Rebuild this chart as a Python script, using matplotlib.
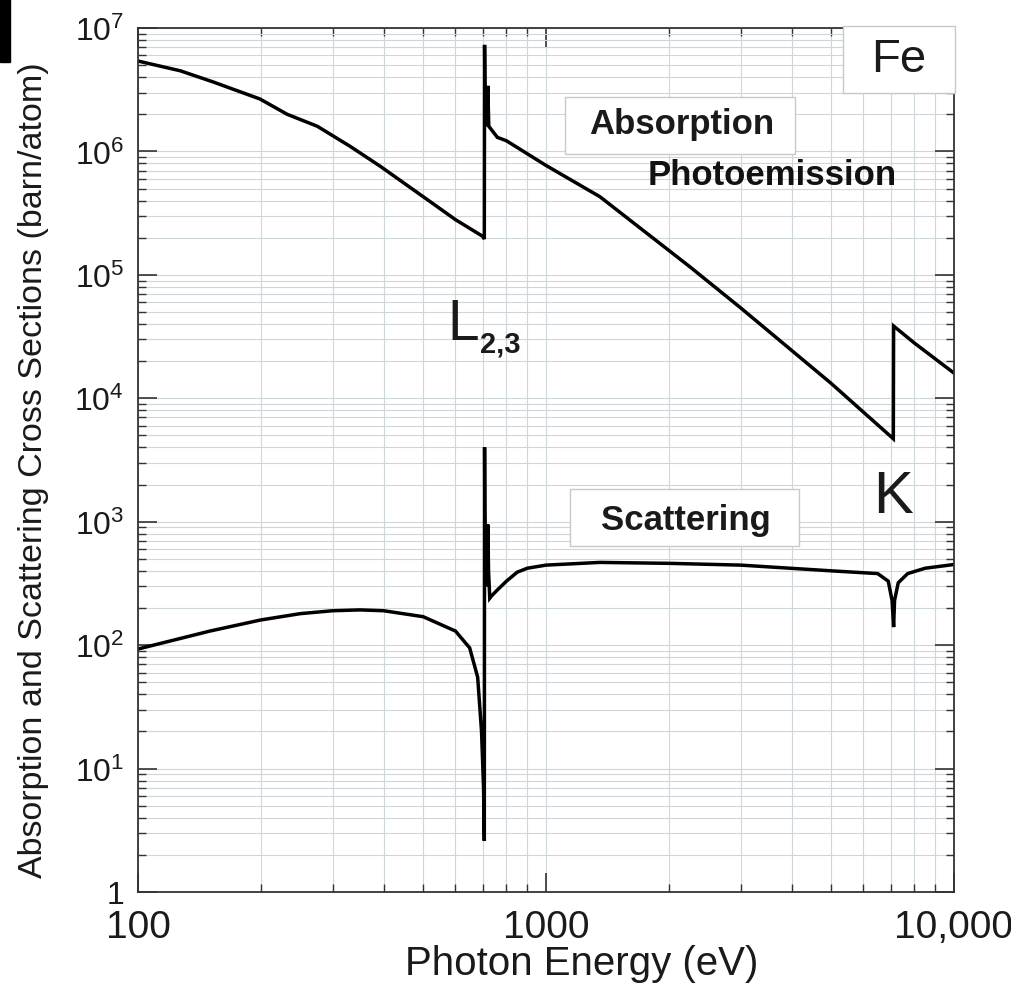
import matplotlib
matplotlib.use("Agg")
import matplotlib.pyplot as plt
from matplotlib.patches import Rectangle
from matplotlib.ticker import FixedLocator, LogLocator, NullFormatter, FixedFormatter

plt.rcParams["font.family"] = ["Liberation Sans", "DejaVu Sans"]
plt.rcParams["mathtext.fontset"] = "custom"
plt.rcParams["mathtext.rm"] = "Liberation Sans"
plt.rcParams["mathtext.it"] = "Liberation Sans"
plt.rcParams["mathtext.bf"] = "Liberation Sans:bold"

# Fe photoabsorption cross section (barn/atom) vs photon energy (eV)
abs_energy = [100, 127, 153, 199, 232, 275, 331, 392, 500, 600, 700, 706,
              707, 709, 713, 716, 720, 724, 735, 760, 800, 1000, 1355,
              2254, 3000, 5000, 7100, 7112, 8000, 10000]
abs_sigma = [5.4e6, 4.5e6, 3.65e6, 2.66e6, 2.0e6, 1.6e6, 1.1e6, 7.6e5,
             4.3e5, 2.8e5, 2.05e5, 1.95e5, 7.3e6, 2.5e6, 1.6e6, 1.7e6,
             3.4e6, 1.6e6, 1.5e6, 1.3e6, 1.22e6, 7.7e5, 4.3e5, 1.16e5,
             5.4e4, 1.32e4, 4.7e3, 3.85e4, 2.8e4, 1.6e4]

# Fe scattering cross section (barn/atom)
sca_energy = [100, 150, 200, 250, 300, 350, 400, 500, 600, 650, 680, 695,
              703, 706, 707, 708, 710, 714, 718, 720, 723, 728, 735, 760,
              800, 850, 900, 1000, 1355, 2000, 3000, 5000, 6500, 6900,
              7050, 7112, 7150, 7300, 7700, 8500, 10000]
sca_sigma = [93, 130, 160, 180, 190, 193, 190, 170, 130, 95, 55, 20, 7,
             2.6, 4000, 1200, 500, 300, 500, 950, 400, 240, 250, 280, 330,
             390, 420, 445, 468, 460, 445, 400, 380, 330, 230, 140, 230,
             320, 380, 420, 450]

x_ticks = [100, 1000, 10000]
x_tick_labels = ["100", "1000", "10,000"]
y_ticks = [1, 10, 100, 1e3, 1e4, 1e5, 1e6, 1e7]
y_tick_labels = ["1"] + [r"$10^{%d}$" % k for k in range(1, 8)]

fig = plt.figure(figsize=(10.11, 9.87), dpi=100)
ax = fig.add_axes([138 / 1011, 1 - 893 / 987, 816 / 1011, 864 / 987])

ax.plot(abs_energy, abs_sigma, color="black", lw=2.5, solid_joinstyle="miter")
ax.plot(sca_energy, sca_sigma, color="black", lw=2.5, solid_joinstyle="miter")

ax.set_xscale("log")
ax.set_yscale("log")
ax.set_xlim(100, 10000)
ax.set_ylim(1, 1e7)

ax.xaxis.set_major_locator(FixedLocator(x_ticks))
ax.xaxis.set_major_formatter(FixedFormatter(x_tick_labels))
ax.xaxis.set_minor_locator(LogLocator(base=10, subs=range(2, 10)))
ax.xaxis.set_minor_formatter(NullFormatter())
ax.yaxis.set_major_locator(FixedLocator(y_ticks))
ax.yaxis.set_major_formatter(FixedFormatter(y_tick_labels))
ax.yaxis.set_minor_locator(LogLocator(base=10, subs=range(2, 10), numticks=20))
ax.yaxis.set_minor_formatter(NullFormatter())

ax.grid(True, which="both", color="#cdd6d9", lw=0.8)
ax.set_axisbelow(True)
ax.tick_params(which="both", direction="in", top=True, right=True,
               color="#333333")
ax.tick_params(which="major", length=14, width=1.2)
ax.tick_params(which="minor", length=6, width=1.0)
ax.tick_params(axis="x", labelsize=28, pad=12, labelcolor="#1a1a1a")
ax.tick_params(axis="y", labelsize=23, pad=10, labelcolor="#1a1a1a")
for sp in ax.spines.values():
    sp.set_color("#333333")
    sp.set_linewidth(1.3)

fig.text(582 / 1011, 1 - 964 / 987, "Photon Energy (eV)", fontsize=29,
         ha="center", va="center", color="#1a1a1a")
fig.text(34 / 1011, 1 - 470 / 987,
         "Absorption and Scattering Cross Sections (barn/atom)",
         fontsize=24.5, rotation=90, ha="center", va="center", color="#1a1a1a")

# labelled boxes
box_kw = dict(transform=ax.transAxes, fill=True, facecolor="white",
              edgecolor="#c8c8c8", lw=1.0, clip_on=False, zorder=3)
ax.add_patch(Rectangle((0.864, 0.925), 0.137, 0.077, **box_kw))
ax.add_patch(Rectangle((0.523, 0.854), 0.282, 0.066, **box_kw))
ax.add_patch(Rectangle((0.529, 0.400), 0.281, 0.066, **box_kw))

ax.text(0.9326, 0.9641, "Fe", transform=ax.transAxes, fontsize=34,
        ha="center", va="center", color="#1a1a1a", zorder=4)
ax.text(0.6667, 0.889, "Absorption", transform=ax.transAxes, fontsize=25,
        fontweight="bold", ha="center", va="center", color="#1a1a1a", zorder=4)
ax.text(0.777, 0.831, "Photoemission", transform=ax.transAxes, fontsize=25,
        fontweight="bold", ha="center", va="center", color="#111111", zorder=4)
ax.text(0.6716, 0.4317, "Scattering", transform=ax.transAxes, fontsize=25,
        fontweight="bold", ha="center", va="center", color="#1a1a1a", zorder=4)
ax.text(0.3787, 0.640, "L", transform=ax.transAxes, fontsize=41,
        ha="left", va="baseline", color="#1a1a1a", zorder=4)
ax.text(0.419, 0.626, "2,3", transform=ax.transAxes, fontsize=21,
        fontweight="bold", ha="left", va="baseline", color="#1a1a1a", zorder=4)
ax.text(0.9007, 0.4398, "K", transform=ax.transAxes, fontsize=43,
        ha="left", va="baseline", color="#1a1a1a", zorder=4)

# dark strip in the top-left corner of the original
fig.add_artist(Rectangle((0, 1 - 63 / 987), 10 / 1011, 63 / 987,
                         transform=fig.transFigure, color="black"))

fig.savefig("out.png", dpi=100, facecolor="white")
